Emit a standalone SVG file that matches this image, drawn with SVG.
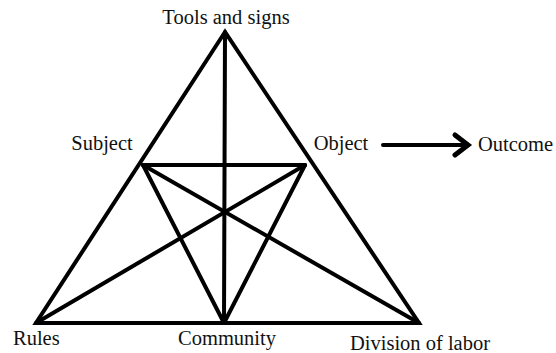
<svg xmlns="http://www.w3.org/2000/svg" width="556" height="353" viewBox="0 0 556 353">
<style>
.e{stroke:#000;stroke-width:4;fill:none;stroke-linecap:round;stroke-linejoin:miter}
.a{stroke:#000;stroke-width:5;fill:none;stroke-linecap:round;stroke-linejoin:miter}
text{font-family:"Liberation Serif","Times New Roman",serif;font-size:20.5px;fill:#111}
</style>
<rect width="556" height="353" fill="#fff"/>
<g id="connectors">
<polygon class="e" points="225,32 36,323 419,323"/>
<line class="e" x1="225" y1="32" x2="224" y2="323"/>
<line class="e" x1="143" y1="165" x2="305" y2="165"/>
<line class="e" x1="143" y1="165" x2="224" y2="323"/>
<line class="e" x1="305" y1="165" x2="224" y2="323"/>
<line class="e" x1="143" y1="165" x2="419" y2="323"/>
<line class="e" x1="305" y1="165" x2="36" y2="323"/>
<line class="e" x1="383" y1="145" x2="466" y2="145"/>
<polyline class="a" points="455,135 468,145 455,155"/>
</g>
<g id="tools"><text x="226" y="24" text-anchor="middle">Tools and signs</text></g>
<g id="subject"><text x="102" y="150" text-anchor="middle">Subject</text></g>
<g id="object"><text x="341" y="150" text-anchor="middle">Object</text></g>
<g id="outcome"><text x="478" y="151">Outcome</text></g>
<g id="rules"><text x="13" y="345">Rules</text></g>
<g id="community"><text x="227" y="345" text-anchor="middle">Community</text></g>
<g id="division"><text x="420" y="350" text-anchor="middle">Division of labor</text></g>
</svg>
